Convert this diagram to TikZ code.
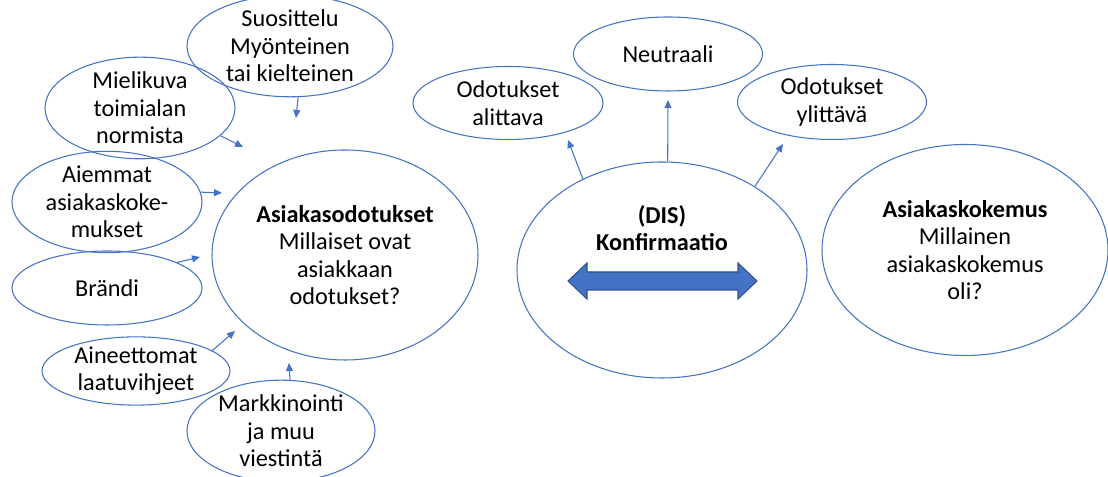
\documentclass[tikz,border=0pt]{standalone}
\usepackage{fontspec}
\setmainfont{Carlito}
\usetikzlibrary{shapes.geometric,arrows.meta}
\definecolor{ovalblue}{HTML}{4472C4}
\definecolor{arrowedge}{HTML}{2F528F}
\tikzset{
  oval/.style={ellipse, draw=ovalblue, line width=0.6pt, inner sep=0pt, align=center},
  feed/.style={draw=ovalblue, line width=0.6pt, -{Triangle[length=1.6mm,width=1.4mm]}, ovalblue}
}
\begin{document}
\begin{tikzpicture}
            \useasboundingbox (0,0) rectangle (22.160000,9.540000);
            {\fontsize{13.8pt}{15.6pt}\selectfont

            % Drawing oval suos
            \node [oval, minimum width=4.12cm, minimum height=1.52cm] (suos) at (5.800000,8.620000) {Suosittelu\\Myönteinen\\tai kielteinen};

            % Drawing oval mieli
            \node [oval, minimum width=3.80cm, minimum height=1.68cm] (mieli) at (2.800000,7.380000) {Mielikuva\\toimialan\\normista};

            % Drawing oval aiemmat
            \node [oval, minimum width=3.80cm, minimum height=1.84cm] (aiemmat) at (2.140000,5.500000) {Aiemmat\\asiakaskoke-\\mukset};

            % Drawing oval brandi
            \node [oval, minimum width=3.80cm, minimum height=1.48cm] (brandi) at (2.140000,3.780000) {Brändi};

            % Drawing oval aineet
            \node [oval, minimum width=3.76cm, minimum height=1.36cm] (aineet) at (2.720000,2.120000) {Aineettomat\\laatuvihjeet};

            % Drawing oval markk
            \node [oval, minimum width=3.76cm, minimum height=1.80cm] (markk) at (5.620000,0.920000) {Markkinointi\\ja muu\\viestintä};

            % Drawing oval odot
            \node [oval, minimum width=5.32cm, minimum height=4.20cm] (odot) at (6.900000,4.440000) {\textbf{Asiakasodotukset}\\Millaiset ovat\\asiakkaan\\odotukset?};

            % Drawing oval dis
            \node [oval, minimum width=5.80cm, minimum height=4.32cm] (dis) at (13.240000,4.140000) {};
            \node [align=center, font=\bfseries] (distxt) at (13.240000,4.980000) {(DIS)\\Konfirmaatio};

            % Drawing oval alitt
            \node [oval, minimum width=3.80cm, minimum height=1.46cm] (alitt) at (10.160000,7.480000) {Odotukset\\alittava};

            % Drawing oval neutr
            \node [oval, minimum width=3.78cm, minimum height=1.48cm] (neutr) at (13.360000,8.460000) {Neutraali};

            % Drawing oval ylitt
            \node [oval, minimum width=3.78cm, minimum height=1.50cm] (ylitt) at (16.640000,7.500000) {Odotukset\\ylittävä};

            % Drawing oval kokemus
            \node [oval, minimum width=5.72cm, minimum height=4.22cm] (kokemus) at (19.300000,4.540000) {\textbf{Asiakaskokemus}\\Millainen\\asiakaskokemus\\oli?};

            % Marking free arrow ends
            \coordinate (suostip) at (5.920000,7.180000);
            \coordinate (mielitip) at (4.860000,6.600000);
            \coordinate (aiemmattip) at (4.440000,5.680000);
            \coordinate (branditip) at (4.000000,4.400000);
            \coordinate (aineettip) at (4.700000,2.920000);
            \coordinate (markktip) at (5.780000,2.280000);
            \coordinate (alitttip) at (11.360000,6.740000);
            \coordinate (neutrtip) at (13.360000,7.540000);
            \coordinate (ylitttip) at (15.660000,6.660000);

            % Drawing arrows into odot
            \draw [feed] (suos.-81) -- (suostip);
            \draw [feed] (mieli.-19) -- (mielitip);
            \draw [feed] (aiemmat.6) -- (aiemmattip);
            \draw [feed] (brandi.20) -- (branditip);
            \draw [feed] (aineet.15) -- (aineettip);
            \draw [feed] (markk.80) -- (markktip);

            % Drawing arrows out of dis
            \draw [feed] (dis.131) -- (alitttip);
            \draw [feed] (dis.87) -- (neutrtip);
            \draw [feed] (dis.42) -- (ylitttip);

            % Drawing double arrow
            \draw [line width=0.6pt, draw=arrowedge, fill=ovalblue] (11.360000,3.920000) -- (11.740000,4.280000) -- (11.740000,4.100000) -- (14.760000,4.100000) -- (14.760000,4.280000) -- (15.140000,3.920000) -- (14.760000,3.560000) -- (14.760000,3.740000) -- (11.740000,3.740000) -- (11.740000,3.560000) -- cycle;
            }
\end{tikzpicture}
\end{document}
